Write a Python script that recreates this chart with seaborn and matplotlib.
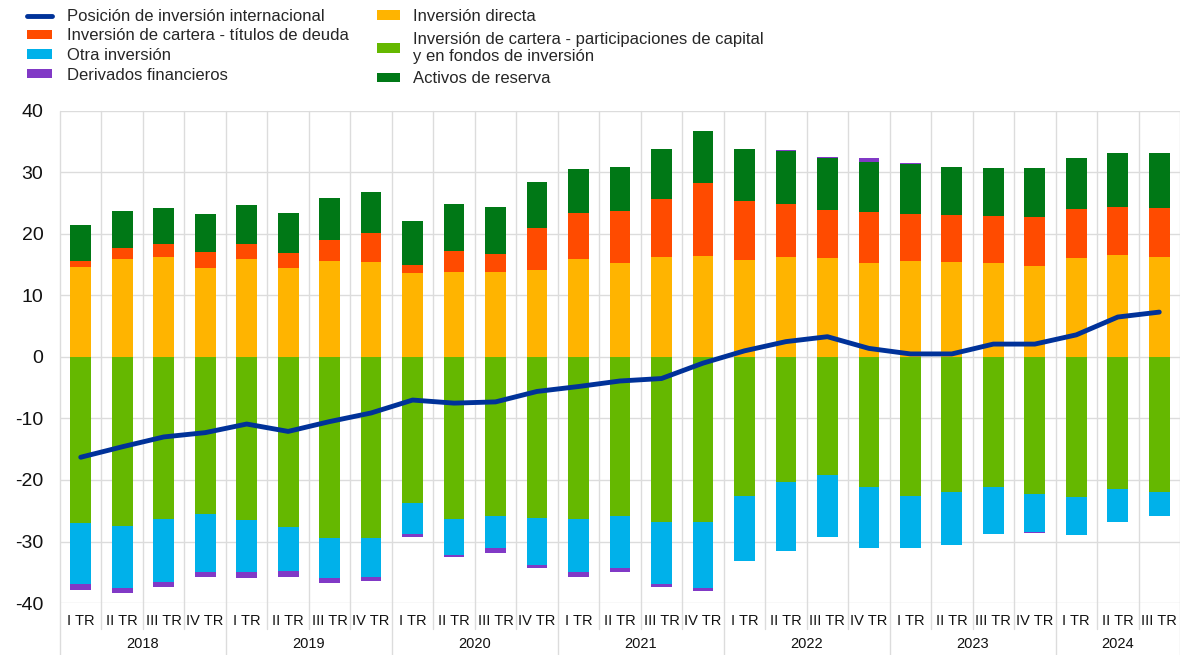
import numpy as np
import pandas as pd
import matplotlib
matplotlib.use("Agg")
import matplotlib.pyplot as plt
import matplotlib.transforms as mtransforms
from matplotlib.patches import Patch
from matplotlib.lines import Line2D
import seaborn as sns

# ---------------- data ----------------
years = ["2018", "2019", "2020", "2021", "2022", "2023", "2024"]
quarter_labels = ["I TR", "II TR", "III TR", "IV TR"] * 6 + ["I TR", "II TR", "III TR"]

direct_inv = [14.7, 15.9, 16.3, 14.4, 15.9, 14.4, 15.6, 15.5,
              13.7, 13.8, 13.8, 14.2, 15.9, 15.3, 16.2, 16.5,
              15.8, 16.2, 16.1, 15.3, 15.6, 15.4, 15.3, 14.8,
              16.1, 16.6, 16.2]
debt_sec = [0.9, 1.9, 2.1, 2.7, 2.5, 2.5, 3.4, 4.6,
            1.2, 3.5, 2.9, 6.7, 7.5, 8.4, 9.5, 11.8,
            9.5, 8.7, 7.8, 8.3, 7.6, 7.7, 7.6, 8.0,
            8.0, 7.8, 8.0]
reserves = [5.9, 5.9, 5.8, 6.2, 6.3, 6.5, 6.9, 6.7,
            7.2, 7.6, 7.7, 7.6, 7.2, 7.2, 8.1, 8.4,
            8.6, 8.6, 8.4, 8.1, 8.2, 7.8, 7.8, 7.9,
            8.3, 8.8, 8.9]
equity = [-27.0, -27.4, -26.4, -25.5, -26.5, -27.6, -29.5, -29.5,
          -23.8, -26.4, -25.9, -26.2, -26.4, -25.9, -26.9, -26.9,
          -22.6, -20.4, -19.2, -21.2, -22.6, -21.9, -21.2, -22.3,
          -22.7, -21.5, -21.9]
other_inv = [-9.9, -10.2, -10.2, -9.4, -8.5, -7.2, -6.4, -6.2,
             -5.0, -5.8, -5.2, -7.6, -8.6, -8.4, -10.0, -10.7,
             -10.6, -11.1, -10.1, -9.9, -8.5, -8.6, -7.5, -6.2,
             -6.2, -5.3, -3.9]
derivatives = [-1.0, -0.8, -0.8, -0.9, -1.0, -0.9, -0.9, -0.7,
               -0.5, -0.4, -0.7, -0.5, -0.7, -0.7, -0.5, -0.4,
               0.0, 0.2, 0.2, 0.7, 0.1, 0.05, -0.1, -0.1,
               -0.1, 0.0, -0.1]
net_position = [-16.3, -14.6, -13.0, -12.3, -10.9, -12.1, -10.5, -9.1,
                -7.0, -7.5, -7.3, -5.6, -4.8, -3.9, -3.5, -1.0,
                1.0, 2.5, 3.3, 1.4, 0.5, 0.5, 2.1, 2.1,
                3.6, 6.5, 7.3]

# ---------------- style ----------------
C_LINE = "#003299"
C_DIRECT = "#FFB400"
C_DEBT = "#FF4B00"
C_OTHER = "#00B1EA"
C_DERIV = "#8139C6"
C_EQUITY = "#65B800"
C_RES = "#007816"
GRID = "#dcdcdc"

sns.set_theme(style="white")
plt.rcParams["font.family"] = ["Liberation Sans", "DejaVu Sans"]
plt.rcParams["axes.unicode_minus"] = False

fig = plt.figure(figsize=(11.8, 6.55), dpi=100)
ax = fig.add_axes([60 / 1180, 1 - 603 / 655, 1120 / 1180, (603 - 111) / 655])

n = len(net_position)
idx = np.arange(n)
df = pd.DataFrame({
    "idx": idx,
    "direct": direct_inv, "debt": debt_sec, "reserves": reserves,
    "equity": equity, "other": other_inv, "deriv": derivatives,
    "net": net_position,
})

pos_bottom = np.zeros(n)
neg_bottom = np.zeros(n)
BW = 0.5

def stack(col, color):
    global pos_bottom, neg_bottom
    vals = df[col].to_numpy(dtype=float)
    bottoms = np.where(vals >= 0, pos_bottom, neg_bottom)
    sns.barplot(x=df["idx"], y=vals, bottom=bottoms, color=color, width=BW,
                errorbar=None, ax=ax, saturation=1, linewidth=0, zorder=3)
    pos_bottom = pos_bottom + np.where(vals >= 0, vals, 0)
    neg_bottom = neg_bottom + np.where(vals < 0, vals, 0)

stack("direct", C_DIRECT)
stack("debt", C_DEBT)
stack("reserves", C_RES)
stack("equity", C_EQUITY)
stack("other", C_OTHER)
stack("deriv", C_DERIV)

sns.lineplot(x=df["idx"].to_numpy(), y=df["net"].to_numpy(), color=C_LINE,
             linewidth=3.5, ax=ax, zorder=5, solid_capstyle="round")

ax.set_xlim(-0.5, n - 0.5)
ax.set_ylim(-40, 40)
ax.set_yticks(np.arange(-40, 41, 10))
ax.yaxis.grid(True, color=GRID, linewidth=1, zorder=0)
ax.xaxis.grid(False)
for s in ax.spines.values():
    s.set_visible(False)
ax.tick_params(axis="y", labelsize=14, length=0, pad=12, colors="#111111")
ax.set_xticks([])
ax.set_xlabel("")
ax.set_ylabel("")

# vertical separators
trans = mtransforms.blended_transform_factory(ax.transData, ax.transAxes)
year_starts = [0, 4, 8, 12, 16, 20, 24]
for b in range(n + 1):
    xb = b - 0.5
    is_year = (b in year_starts) or b == n
    ybot = -52 / 492 if is_year else -26 / 492
    ax.add_line(Line2D([xb, xb], [ybot, 1], transform=trans, color=GRID,
                       linewidth=1, clip_on=False, zorder=0))

# quarter labels
for i, q in enumerate(quarter_labels):
    ax.text(i, -18 / 492, q, transform=trans, ha="center", va="center",
            fontsize=10.5, color="#111111")
# year labels
for k, y in enumerate(years):
    start = year_starts[k]
    end = min(start + 4, n) - 1
    ax.text((start + end) / 2, -41 / 492, y, transform=trans, ha="center",
            va="center", fontsize=10.5, color="#111111")

# legends (two columns)
handles1 = [
    Line2D([0], [0], color=C_LINE, linewidth=3.5),
    Patch(facecolor=C_DEBT, edgecolor="none"),
    Patch(facecolor=C_OTHER, edgecolor="none"),
    Patch(facecolor=C_DERIV, edgecolor="none"),
]
labels1 = [
    "Posición de inversión internacional",
    "Inversión de cartera - títulos de deuda",
    "Otra inversión",
    "Derivados financieros",
]
handles2 = [
    Patch(facecolor=C_DIRECT, edgecolor="none"),
    Patch(facecolor=C_EQUITY, edgecolor="none"),
    Patch(facecolor=C_RES, edgecolor="none"),
]
labels2 = [
    "Inversión directa",
    "Inversión de cartera - participaciones de capital\ny en fondos de inversión",
    "Activos de reserva",
]
common = dict(loc="upper left", frameon=False, fontsize=12, handleheight=0.5,
              borderaxespad=0, borderpad=0)
fig.legend(handles1, labels1, bbox_to_anchor=(27 / 1180, 1 - 9 / 655),
           handlelength=1.5, handletextpad=0.9, labelspacing=0.27, **common)
fig.legend(handles2, labels2, bbox_to_anchor=(377 / 1180, 1 - 9 / 655),
           handlelength=1.4, handletextpad=0.75, labelspacing=0.45, **common)

fig.savefig("out.png", dpi=100)
